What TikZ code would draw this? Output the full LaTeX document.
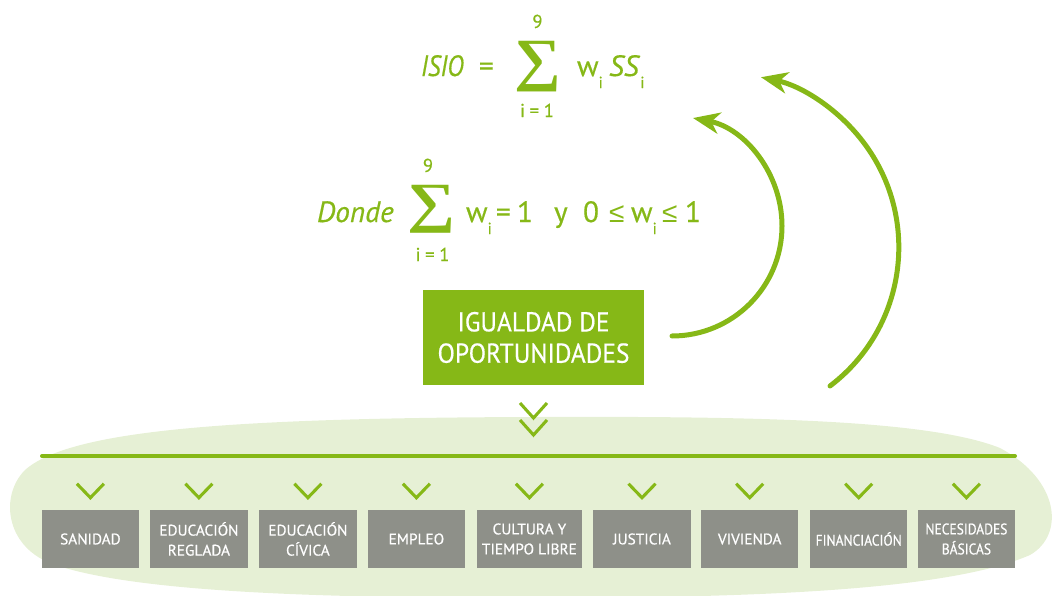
\documentclass[tikz,border=0pt]{standalone}
\usepackage{fontspec}
\usepackage{graphicx}
\setmainfont{PT Sans}[FakeBold=0.5]
\newfontfamily\condfont{PT Sans}[FakeStretch=0.85,FakeBold=0.5]
\newfontfamily\boxfont{PT Sans}[FakeStretch=0.93,FakeBold=0.5]
\newfontfamily\narrowfont{PT Sans}[FakeStretch=0.88,FakeBold=0.5]
\newfontfamily\sigfont{Liberation Serif}
\newfontfamily\leqfont{Liberation Sans}
\usetikzlibrary{arrows.meta,calc}
\definecolor{isgreen}{HTML}{86B817}
\definecolor{bggreen}{HTML}{E6F0D5}
\definecolor{boxgray}{HTML}{8E9089}
\newcommand{\mysubi}{\raisebox{-9pt}{\fontsize{12}{12}\selectfont i}}
\newcommand{\myleq}{{\leqfont\fontsize{21}{21}\selectfont ≤}}
\begin{document}
\begin{tikzpicture}[x=0.75pt,y=-0.75pt,
  txt/.style={inner sep=0pt, outer sep=0pt, text=isgreen, anchor=base west,
    font=\fontsize{22}{26}\selectfont},
  limtxt/.style={inner sep=0pt, outer sep=0pt, text=isgreen, anchor=base,
    font=\fontsize{14}{16}\selectfont},
  sig/.style={inner sep=0pt, outer sep=0pt, text=isgreen},
  mainbox/.style={fill=isgreen, text=white, inner sep=0pt, minimum width=165.75pt,
    minimum height=71.25pt, align=center, font=\boxfont\fontsize{20.5}{23.5}\selectfont},
  catbox/.style={fill=boxgray, text=white, inner sep=0pt, minimum width=73.1pt,
    minimum height=43.5pt, align=center, font=\fontsize{11.5}{15}\selectfont},
  chev/.style={draw=isgreen, line width=2.3pt},
  arcarrow/.style={draw=isgreen, line width=3.75pt, line cap=round,
    -{Stealth[length=20pt,width=16pt,inset=6pt]}}
]
\useasboundingbox (0,0) rectangle (1053,596);

% background blob
\fill[bggreen] (530,417) .. controls (230,418) and (70,430) .. (25,470)
  .. controls (0,495) and (5,545) .. (50,563)
  .. controls (130,593) and (330,598) .. (530,598)
  .. controls (760,598) and (950,590) .. (1030,555)
  .. controls (1065,535) and (1060,480) .. (1000,448)
  .. controls (930,420) and (760,416) .. (530,417) -- cycle;

% formula line 1
\node[txt, font=\condfont\fontsize{22}{26}\selectfont] (isio) at (421,76) {\itshape ISIO};
\node[txt] (eqa) at (479,76) {=};
\node[sig] (sigA) at (538,67) {\resizebox*{35pt}{38pt}{\sigfont\bfseries ∑}};
\node[limtxt] (upA) at (537.5,28) {9};
\node[limtxt] (loA) at (537,117) {i\kern3.5pt=\kern3.5pt1};
\node[txt] (wA) at (577,76) {w\mysubi};
\node[txt] (ssA) at (609,76) {\textit{SS}\mysubi};

% formula line 2
\node[txt] (donde) at (317,222) {\itshape Donde};
\node[sig] (sigB) at (431,209) {\resizebox*{36pt}{36pt}{\sigfont\bfseries ∑}};
\node[limtxt] (upB) at (428,172) {9};
\node[limtxt] (loB) at (432.5,261) {i\kern3.5pt=\kern3.5pt1};
\node[txt] (wB1) at (466,222) {w\mysubi};
\node[txt] (eqB) at (496,222) {=};
\node[txt] (oneB1) at (517,222) {1};
\node[txt] (yB) at (554,222) {y};
\node[txt] (zeroB) at (583,222) {0};
\node[txt] (leqB1) at (609,222) {\myleq};
\node[txt] (wB2) at (631,222) {w\mysubi};
\node[txt] (leqB2) at (662,222) {\myleq};
\node[txt] (oneB2) at (685,222) {1};

% main box
\node[mainbox] (igual) at (533.5,337.5) {IGUALDAD DE\\OPORTUNIDADES};

% double chevron
\coordinate (dc) at (533.5,385);
\draw[chev] ($(dc)+(-13.5,18)$) -- ($(dc)+(0,33)$) -- ($(dc)+(13.5,18)$);
\draw[chev] ($(dc)+(-13.5,35)$) -- ($(dc)+(0,50)$) -- ($(dc)+(13.5,35)$);

% horizontal line
\coordinate (hl) at (42,456);
\coordinate (hr) at (1015,456);
\draw[draw=isgreen, line width=3pt, line cap=round] (hl) -- (hr);

% category boxes
\node[catbox] (b1) at (90.4,539) {SANIDAD};
\node[catbox] (b2) at (198.9,539) {EDUCACIÓN\\REGLADA};
\node[catbox] (b3) at (307.9,539) {EDUCACIÓN\\CÍVICA};
\node[catbox] (b4) at (416.4,539) {EMPLEO};
\node[catbox, minimum width=78.75pt] (b5) at (529.4,539) {CULTURA Y\\TIEMPO LIBRE};
\node[catbox] (b6) at (642,539) {JUSTICIA};
\node[catbox] (b7) at (749.7,539) {VIVIENDA};
\node[catbox, font=\narrowfont\fontsize{11.5}{15}\selectfont] (b8) at (858.7,539) {FINANCIACIÓN};
\node[catbox, font=\narrowfont\fontsize{11.5}{15}\selectfont] (b9) at (966.4,539) {NECESIDADES\\BÁSICAS};

\foreach \b in {b1,b2,b3,b4,b5,b6,b7,b8,b9}{
  \draw[chev] ($(\b.north)+(-13.5,-26)$) -- ($(\b.north)+(0,-12)$) -- ($(\b.north)+(13.5,-26)$);
}

% arcs
\coordinate (arcAstart) at (672,336);
\coordinate (arcBstart) at (830,386);
\draw[arcarrow] (arcAstart) arc[start angle=-90, end angle=79, radius=82.5pt];
\draw[arcarrow] (arcBstart) arc[start angle=-52.8, end angle=78, radius=130.5pt];
\end{tikzpicture}
\end{document}
